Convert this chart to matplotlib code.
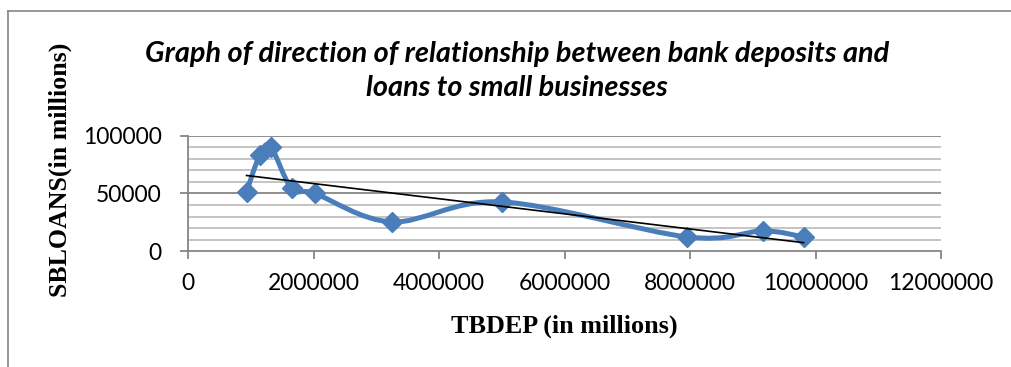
import numpy as np
import matplotlib
matplotlib.use("Agg")
import matplotlib.pyplot as plt
from matplotlib.path import Path
from matplotlib.patches import PathPatch
from matplotlib.lines import Line2D

# values
tbdep = [933000, 1145000, 1316000, 1652000, 2020000, 3250000, 5000000, 7960000, 9160000, 9810000]
sbloans = [51500, 83500, 90700, 54400, 50000, 25300, 42700, 12200, 17400, 12200]
x_ticks = [0, 2000000, 4000000, 6000000, 8000000, 10000000, 12000000]
y_ticks = [0, 50000, 100000]
title = "Graph of direction of relationship between bank deposits and\nloans to small businesses"
x_label = "TBDEP (in millions)"
y_label = "SBLOANS(in millions)"

blue = "#4A7EBB"
grid_major = "#868686"
grid_minor = "#BFBFBF"


def smooth_path(xs, ys):
    # excel style smoothed line: bezier segments through every point
    pts = np.column_stack([xs, ys]).astype(float)
    n = len(pts)
    verts = [pts[0]]
    codes = [Path.MOVETO]
    for i in range(n - 1):
        p0 = pts[i - 1] if i > 0 else pts[i]
        p1 = pts[i]
        p2 = pts[i + 1]
        p3 = pts[i + 2] if i + 2 < n else pts[i + 1]
        c1 = p1 + (p2 - p0) / 6.0
        c2 = p2 - (p3 - p1) / 6.0
        verts += [c1, c2, p2]
        codes += [Path.CURVE4] * 3
    return Path(verts, codes)


fig = plt.figure(figsize=(10.12, 3.67), dpi=100)
ax = fig.add_axes([188 / 1012, 1 - 251 / 367, (941 - 188) / 1012, (251 - 136) / 367])

# outer chart border (runs off the right and bottom edges)
fig.add_artist(Line2D([8 / 1012, 8 / 1012], [1 - 11 / 367, 0], transform=fig.transFigure,
                      color=grid_major, lw=1.2))
fig.add_artist(Line2D([8 / 1012, 1], [1 - 11 / 367, 1 - 11 / 367], transform=fig.transFigure,
                      color=grid_major, lw=1.2))

ax.set_xlim(0, 12000000)
ax.set_ylim(0, 100000)

for yv in np.arange(10000, 100001, 10000):
    major = yv % 50000 == 0
    ax.axhline(yv, color=grid_major if major else grid_minor, lw=1.3, zorder=1)

ax.add_patch(PathPatch(smooth_path(tbdep, sbloans), facecolor="none", edgecolor=blue,
                       lw=3.6, zorder=3, capstyle="round", joinstyle="round"))
ax.plot(tbdep, sbloans, linestyle="none", marker="D", markersize=10.5, color=blue, zorder=4)

# linear trendline
k, b = np.polyfit(tbdep, sbloans, 1)
tx = np.array([min(tbdep), max(tbdep)])
ax.plot(tx, k * tx + b, color="black", lw=1.2, zorder=5)

for s in ["top", "right"]:
    ax.spines[s].set_visible(False)
for s in ["left", "bottom"]:
    ax.spines[s].set_color(grid_major)
    ax.spines[s].set_linewidth(1.3)

ax.set_xticks(x_ticks)
ax.set_xticklabels([str(v) for v in x_ticks])
ax.set_yticks(y_ticks)
ax.set_yticklabels([str(v) for v in y_ticks])
ax.tick_params(axis="both", direction="out", length=6, width=1.3, color=grid_major,
               labelsize=16.5, labelcolor="black")
ax.tick_params(axis="x", pad=10)
ax.tick_params(axis="y", pad=13)
for lab in ax.get_xticklabels() + ax.get_yticklabels():
    lab.set_family("Lato")

fig.text(517 / 1012, 1 - 71 / 367, title, ha="center", va="center", family="Lato",
         fontsize=20.8, fontweight="bold", fontstyle="italic", linespacing=1.35)
fig.text(564 / 1012, 1 - 326 / 367, x_label, ha="center", va="center",
         family="Liberation Serif", fontsize=18.8, fontweight="bold")
fig.text(60 / 1012, 1 - 170 / 367, y_label, ha="center", va="center", rotation=90,
         family="Liberation Serif", fontsize=18.6, fontweight="bold")

fig.savefig("out.png", dpi=100)
